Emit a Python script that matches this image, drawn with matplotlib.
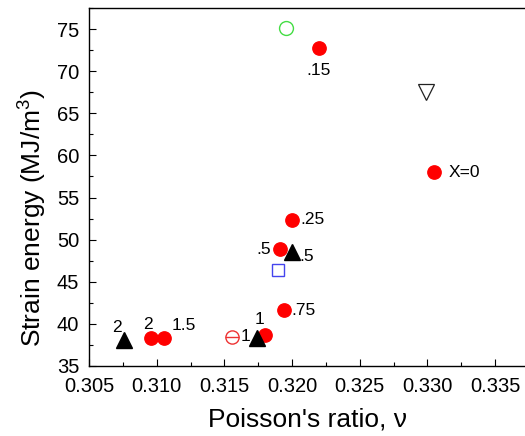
import matplotlib
matplotlib.use("Agg")
from matplotlib import pyplot as plt
from matplotlib.ticker import MultipleLocator
import numpy as np

plt.rcParams['font.family'] = ['Liberation Sans', 'DejaVu Sans']
plt.rcParams['mathtext.fontset'] = 'custom'
plt.rcParams['mathtext.rm'] = 'Liberation Sans'
plt.rcParams['mathtext.default'] = 'regular'

# red filled circles (labelled by X)
red_x = [0.33052, 0.32196, 0.32000, 0.31909, 0.31943, 0.31803, 0.31051, 0.30955]
red_y = [57.98, 72.77, 52.37, 48.84, 41.60, 38.68, 38.25, 38.25]
red_lab = ["X=0", ".15", ".25", ".5", ".75", "1", "1.5", "2"]
red_off = [(10, 0), (0, -16), (6, 0), (-6, 0), (5, 0), (-4, 11), (6, 9), (-2, 10)]
red_ha = ["left", "center", "left", "right", "left", "center", "left", "center"]

# black filled triangles
tri_x = [0.32002, 0.31744, 0.30760]
tri_y = [48.52, 38.30, 38.10]
tri_lab = [".5", "1", "2"]
tri_off = [(5, -3), (-5, 1), (-5, 9)]
tri_ha = ["left", "right", "center"]

# single open symbols
green_x, green_y = [0.31955], [75.2]
tdown_x, tdown_y = [0.32993], [67.57]
blue_x, blue_y = [0.31896], [46.35]
theta_x, theta_y = [0.31555], [38.44]

fig = plt.figure(figsize=(5.25, 4.36), dpi=100)
ax = fig.add_axes([89/525, 70.3/436, 473.7/525, 357.4/436])

ax.plot(green_x, green_y, 'o', ms=10, mfc='none', mec='#44dd44', mew=1.0)
ax.plot(tdown_x, tdown_y, 'v', ms=11.5, mfc='none', mec='#222222', mew=0.9)
ax.plot(blue_x, blue_y, 's', ms=8.5, mfc='none', mec='#4444ee', mew=1.0)
ax.plot(theta_x, theta_y, 'o', ms=9.5, mfc='none', mec='#ee3333', mew=1.0)
ax.plot(theta_x, theta_y, '_', ms=9.5, mec='#ee3333', mew=1.0)
ax.plot(red_x, red_y, 'o', ms=9.6, color='#ff0000', mec='#ff0000', zorder=3)
ax.plot(tri_x, tri_y, '^', ms=12, color='black', zorder=4)

for x, y, s, o, h in zip(red_x, red_y, red_lab, red_off, red_ha):
    ax.annotate(s, (x, y), xytext=o, textcoords='offset points',
                ha=h, va='center', fontsize=12.5)
for x, y, s, o, h in zip(tri_x, tri_y, tri_lab, tri_off, tri_ha):
    ax.annotate(s, (x, y), xytext=o, textcoords='offset points',
                ha=h, va='center', fontsize=12.5)

ax.set_xlim(0.305, 0.340)
ax.set_ylim(35, 77.5)
ax.set_xticks(np.arange(0.305, 0.3351, 0.005))
ax.set_yticks(np.arange(35, 75.1, 5))
ax.xaxis.set_minor_locator(MultipleLocator(0.0025))
ax.yaxis.set_minor_locator(MultipleLocator(2.5))
ax.xaxis.set_major_formatter(plt.FormatStrFormatter('%.3f'))
ax.tick_params(which='both', direction='in', labelsize=14.5, width=0.8)
ax.tick_params(which='major', length=5)
ax.tick_params(which='minor', length=3)
ax.tick_params(axis='x', pad=8)
ax.tick_params(axis='y', pad=7)
for sp in ax.spines.values():
    sp.set_linewidth(1.0)

ax.set_xlabel("Poisson's ratio, ν", fontsize=19)
ax.set_ylabel("Strain energy (MJ/m$^3$)", fontsize=19)
ax.xaxis.set_label_coords(0.461, -0.118)
ax.yaxis.set_label_coords(-0.085, 0.413)

fig.savefig("out.png", dpi=100)
